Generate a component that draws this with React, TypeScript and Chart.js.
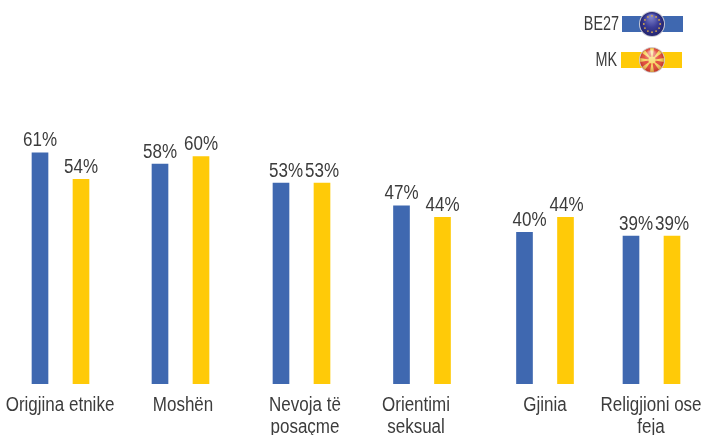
import React, { useEffect, useRef } from "react";
import { Chart, registerables, CategoryScale } from "chart.js";

const categories = [
  "Origjina etnike",
  "Moshën",
  ["Nevoja të", "posaçme"],
  ["Orientimi", "seksual"],
  "Gjinia",
  ["Religjioni ose", "feja"],
];
const be27 = [61, 58, 53, 47, 40, 39];
const mk = [54, 60, 53, 44, 44, 39];
const seriesNames = ["BE27", "MK"];

// Layout only: the reference's groups are not evenly spaced.
const GROUP_SHIFT = [2, 5, 9, 12.5, 18.5, 8];
const LABEL_SHIFT = [-0.5, 2.5, 3.5, -6, 0, -0.5];
const VALUE_NUDGE = [
  [0, 0, 5, 0, 5, 5],
  [0, 0, 0, 0, 1, 0],
];
const BLUE = "#3F68B0";
const YELLOW = "#FFCA08";
const FONT = '"Liberation Sans", sans-serif';
const TEXT = "#3c3c3c";

class ShiftedCategoryScale extends CategoryScale {
  static id = "shiftedCategory";
  static defaults = CategoryScale.defaults;
  getPixelForValue(value: any) {
    const base = super.getPixelForValue(value);
    const i = typeof value === "number" ? value : (this as any).parse(value);
    return base + (GROUP_SHIFT[Math.round(i)] || 0);
  }
  getPixelForTick(index: number) {
    return this.getPixelForValue(index) + (LABEL_SHIFT[index] || 0);
  }
}

function narrowText(
  ctx: CanvasRenderingContext2D,
  text: string,
  x: number,
  y: number,
  align: CanvasTextAlign,
  baseline: CanvasTextBaseline,
  squeeze = 0.85
) {
  ctx.save();
  ctx.translate(x, y);
  ctx.scale(squeeze, 1);
  ctx.font = `20px ${FONT}`;
  ctx.fillStyle = TEXT;
  ctx.textAlign = align;
  ctx.textBaseline = baseline;
  ctx.fillText(text, 0, 0);
  ctx.restore();
}

function drawEuFlag(ctx: CanvasRenderingContext2D, x: number, y: number, r: number) {
  ctx.save();
  ctx.beginPath();
  ctx.arc(x, y, r + 1, 0, Math.PI * 2);
  ctx.fillStyle = "#c9c9d4";
  ctx.fill();
  const g = ctx.createRadialGradient(x - 1, y - 8, 1, x, y, r);
  g.addColorStop(0, "#8185cc");
  g.addColorStop(0.55, "#3b3d98");
  g.addColorStop(1, "#23246e");
  ctx.beginPath();
  ctx.arc(x, y, r, 0, Math.PI * 2);
  ctx.fillStyle = g;
  ctx.fill();
  ctx.fillStyle = "#d8a848";
  for (let i = 0; i < 12; i++) {
    const a = (i * Math.PI) / 6;
    ctx.beginPath();
    ctx.arc(x + Math.cos(a) * r * 0.68, y + Math.sin(a) * r * 0.68, 0.9, 0, Math.PI * 2);
    ctx.fill();
  }
  ctx.restore();
}

function drawMkFlag(ctx: CanvasRenderingContext2D, x: number, y: number, r: number) {
  ctx.save();
  ctx.beginPath();
  ctx.arc(x, y, r + 1, 0, Math.PI * 2);
  ctx.fillStyle = "#d4c8c8";
  ctx.fill();
  ctx.beginPath();
  ctx.arc(x, y, r, 0, Math.PI * 2);
  ctx.fillStyle = "#e2412f";
  ctx.fill();
  ctx.clip();
  ctx.fillStyle = "#f7d65a";
  for (let i = 0; i < 8; i++) {
    const a = (i * Math.PI) / 4;
    ctx.beginPath();
    ctx.moveTo(x, y);
    ctx.lineTo(x + Math.cos(a - 0.17) * r * 1.2, y + Math.sin(a - 0.17) * r * 1.2);
    ctx.lineTo(x + Math.cos(a + 0.17) * r * 1.2, y + Math.sin(a + 0.17) * r * 1.2);
    ctx.closePath();
    ctx.fill();
  }
  ctx.beginPath();
  ctx.arc(x, y, r * 0.3, 0, Math.PI * 2);
  ctx.fill();
  const g = ctx.createRadialGradient(x - 1, y - 8, 1, x, y, r);
  g.addColorStop(0, "rgba(255,255,255,0.6)");
  g.addColorStop(0.6, "rgba(255,255,255,0.08)");
  g.addColorStop(1, "rgba(120,20,10,0.3)");
  ctx.fillStyle = g;
  ctx.fillRect(x - r, y - r, r * 2, r * 2);
  ctx.restore();
}

const valueLabels = {
  id: "valueLabels",
  afterDatasetsDraw(chart: any) {
    const { ctx } = chart;
    chart.data.datasets.forEach((ds: any, d: number) => {
      chart.getDatasetMeta(d).data.forEach((el: any, i: number) => {
        narrowText(ctx, `${ds.data[i]}%`, el.x + VALUE_NUDGE[d][i], el.y - 2, "center", "bottom");
      });
    });
  },
};

const axisLabels = {
  id: "axisLabels",
  afterDatasetsDraw(chart: any) {
    const { ctx } = chart;
    const scale = chart.scales.x;
    categories.forEach((label, i) => {
      const lines = Array.isArray(label) ? label : [label];
      lines.forEach((line, l) => {
        narrowText(ctx, line, scale.getPixelForTick(i), 405 + l * 22, "center", "middle");
      });
    });
  },
};

const flagLegend = {
  id: "flagLegend",
  afterDraw(chart: any) {
    const { ctx } = chart;
    const rows = [
      { x: 622, y: 16, textX: 619, flag: drawEuFlag },
      { x: 621, y: 52, textX: 617, flag: drawMkFlag },
    ];
    ctx.save();
    rows.forEach((row, d) => {
      const ds = chart.data.datasets[d];
      ctx.fillStyle = ds.backgroundColor;
      ctx.fillRect(row.x, row.y, 61, 16);
      row.flag(ctx, 652, row.y + 8, 12);
      narrowText(ctx, ds.label, row.textX, row.y + 8, "right", "middle", 0.72);
    });
    ctx.restore();
  },
};

Chart.register(...registerables, ShiftedCategoryScale as any);

export default function App() {
  const ref = useRef<HTMLCanvasElement>(null);
  useEffect(() => {
    const chart = new Chart(ref.current as HTMLCanvasElement, {
      type: "bar",
      data: {
        labels: categories as any,
        datasets: [
          { label: seriesNames[0], data: be27, backgroundColor: BLUE },
          { label: seriesNames[1], data: mk, backgroundColor: YELLOW },
        ],
      },
      plugins: [valueLabels, axisLabels, flagLegend],
      options: {
        animation: false,
        responsive: false,
        maintainAspectRatio: false,
        barThickness: 41,
        maxBarThickness: 16,
        layout: { padding: { bottom: 43 } },
        plugins: { legend: { display: false }, tooltip: { enabled: false } },
        scales: {
          x: {
            type: "shiftedCategory",
            display: true,
            grid: { display: false },
            border: { display: false },
            ticks: { display: false },
          },
          y: { display: false, min: 0, max: 101.3 },
        },
      } as any,
    });
    return () => chart.destroy();
  }, []);
  return (
    <div style={{ position: "absolute", left: 0, top: 0, width: 702, height: 435 }}>
      <canvas ref={ref} width={702} height={435} style={{ display: "block" }} />
    </div>
  );
}
